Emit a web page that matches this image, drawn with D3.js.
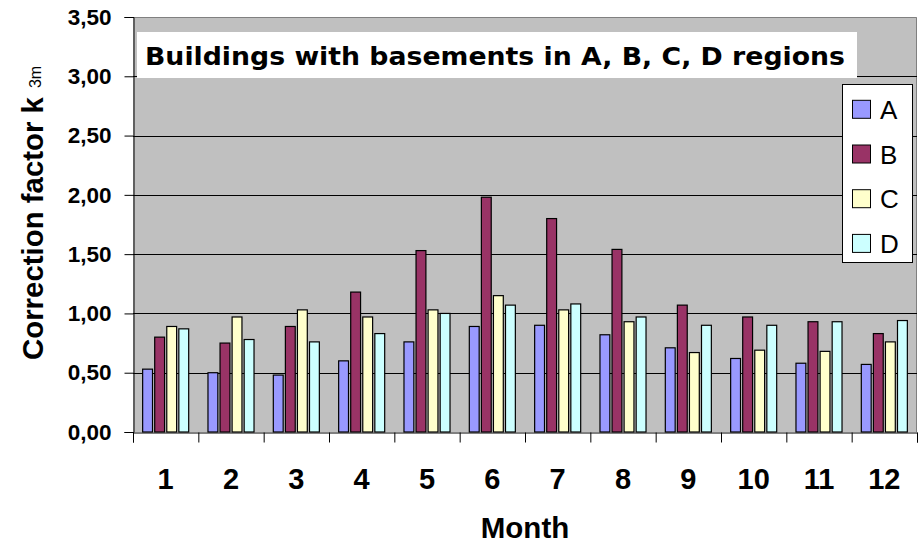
<!DOCTYPE html>
<html>
<head>
<meta charset="utf-8">
<script src="https://cdn.jsdelivr.net/npm/d3@7/dist/d3.min.js"></script>
<style>
  body { margin: 0; background: #fff; }
  svg { display: block; }
</style>
</head>
<body>
<svg id="chart" width="919" height="545"></svg>
<script>
// Monthly correction factor k3m for buildings with basements, by region
const months = ["1", "2", "3", "4", "5", "6", "7", "8", "9", "10", "11", "12"];
const regions = ["A", "B", "C", "D"];
const valuesA = [0.53, 0.50, 0.48, 0.60, 0.76, 0.89, 0.90, 0.82, 0.71, 0.62, 0.58, 0.57];
const valuesB = [0.80, 0.75, 0.89, 1.18, 1.53, 1.98, 1.80, 1.54, 1.07, 0.97, 0.93, 0.83];
const valuesC = [0.89, 0.97, 1.03, 0.97, 1.03, 1.15, 1.03, 0.93, 0.67, 0.69, 0.68, 0.76];
const valuesD = [0.87, 0.78, 0.76, 0.83, 1.00, 1.07, 1.08, 0.97, 0.90, 0.90, 0.93, 0.94];
const yTicks = [0, 0.5, 1.0, 1.5, 2.0, 2.5, 3.0, 3.5];
const titleText = "Buildings with basements in A, B, C, D regions";
const yLabelText = "Correction factor k";
const yLabelSub = "3m";
const xLabelText = "Month";

const seriesValues = { A: valuesA, B: valuesB, C: valuesC, D: valuesD };
const colors = { A: "#9999FF", B: "#993366", C: "#FFFFCC", D: "#CCFFFF" };

const FONT = "'Liberation Sans', Arial, sans-serif";
const svg = d3.select("#chart");
const plot = { left: 133, right: 917, top: 17, bottom: 432 };

const x0 = d3.scaleBand().domain(months)
  .range([plot.left, plot.right])
  .paddingInner(0.28).paddingOuter(0.14);
const x1 = d3.scaleBand().domain(regions)
  .range([0, x0.bandwidth()])
  .paddingInner(0.1);
const xEdges = d3.scaleLinear().domain([0, months.length]).range([plot.left, plot.right]);
const y = d3.scaleLinear().domain([0, 3.5]).range([plot.bottom, plot.top]);

// plot area
svg.append("rect")
  .attr("x", plot.left).attr("y", plot.top)
  .attr("width", plot.right - plot.left).attr("height", plot.bottom - plot.top)
  .attr("fill", "#C0C0C0");
svg.append("path")
  .attr("d", `M${plot.left},${plot.top + 0.5}H${plot.right - 0.5}V${plot.bottom}`)
  .attr("fill", "none").attr("stroke", "#808080").attr("stroke-width", 1);

// horizontal gridlines
svg.append("g").selectAll("line")
  .data(yTicks.filter(d => d > 0 && d < 3.5))
  .join("line")
  .attr("x1", plot.left).attr("x2", plot.right)
  .attr("y1", d => Math.round(y(d)) + 0.5).attr("y2", d => Math.round(y(d)) + 0.5)
  .attr("stroke", "#000").attr("stroke-width", 1);

// bars
const groups = svg.append("g").selectAll("g")
  .data(months)
  .join("g")
  .attr("transform", m => `translate(${x0(m)},0)`);
groups.selectAll("rect")
  .data((m, i) => regions.map(r => ({ r, v: seriesValues[r][i] })))
  .join("rect")
  .attr("x", d => x1(d.r) + 0.5)
  .attr("y", d => y(d.v))
  .attr("width", x1.bandwidth() - 1)
  .attr("height", d => y(0) - y(d.v))
  .attr("fill", d => colors[d.r])
  .attr("stroke", "#000").attr("stroke-width", 1.2);

// y axis
const yAxis = svg.append("g")
  .attr("transform", `translate(${plot.left + 0.5},0)`)
  .call(d3.axisLeft(y).tickValues(yTicks).tickSize(9).tickPadding(13)
    .tickFormat(d => d3.format(".2f")(d).replace(".", ",")));
yAxis.select(".domain").attr("stroke", "#000");
yAxis.selectAll(".tick line").attr("stroke", "#000");
yAxis.selectAll("text")
  .attr("font-family", FONT).attr("font-size", 22.5).attr("font-weight", "bold").attr("fill", "#000");

// x axis with ticks between months
const xAxis = svg.append("g")
  .attr("transform", `translate(0,${plot.bottom + 0.5})`)
  .call(d3.axisBottom(xEdges).tickValues(d3.range(months.length + 1)).tickSize(10).tickFormat(""));
xAxis.select(".domain").attr("stroke", "#000");
xAxis.selectAll(".tick line").attr("stroke", "#000");

// month labels
svg.append("g").selectAll("text")
  .data(months)
  .join("text")
  .attr("x", m => x0(m) + x0.bandwidth() / 2)
  .attr("y", 489)
  .attr("text-anchor", "middle")
  .attr("font-family", FONT).attr("font-size", 29).attr("font-weight", "bold")
  .text(m => m);

// axis titles
svg.append("text")
  .attr("x", (plot.left + plot.right) / 2).attr("y", 538)
  .attr("text-anchor", "middle")
  .attr("font-family", FONT).attr("font-size", 29.5).attr("font-weight", "bold")
  .text(xLabelText);

const yLabel = svg.append("text")
  .attr("transform", "translate(43,360) rotate(-90)")
  .attr("font-family", FONT).attr("font-size", 29.4).attr("font-weight", "bold");
yLabel.append("tspan").text(yLabelText);
yLabel.append("tspan").attr("dx", 9).attr("dy", -2)
  .attr("font-size", 16).attr("font-weight", "normal").text(yLabelSub);

// chart title box
svg.append("rect")
  .attr("x", 137).attr("y", 32).attr("width", 720).attr("height", 46)
  .attr("fill", "#fff");
svg.append("text")
  .attr("x", 145).attr("y", 65)
  .attr("font-family", "'DejaVu Sans', Verdana, sans-serif")
  .attr("font-size", 24.5).attr("font-weight", "bold")
  .attr("textLength", 700).attr("lengthAdjust", "spacingAndGlyphs")
  .text(titleText);

// legend
const legend = svg.append("g").attr("transform", "translate(842,84)");
legend.append("rect")
  .attr("x", 0.5).attr("y", 0.5).attr("width", 70).attr("height", 178)
  .attr("fill", "#fff").attr("stroke", "#000").attr("stroke-width", 1);
const items = legend.selectAll("g.item")
  .data(regions)
  .join("g").attr("class", "item")
  .attr("transform", (d, i) => `translate(0,${25.3 + i * 44.7})`);
items.append("rect")
  .attr("x", 10.5).attr("y", -9).attr("width", 18).attr("height", 18)
  .attr("fill", d => colors[d]).attr("stroke", "#000").attr("stroke-width", 1);
items.append("text")
  .attr("x", 38).attr("y", 9.5)
  .attr("font-family", FONT).attr("font-size", 26)
  .text(d => d);
</script>
</body>
</html>
